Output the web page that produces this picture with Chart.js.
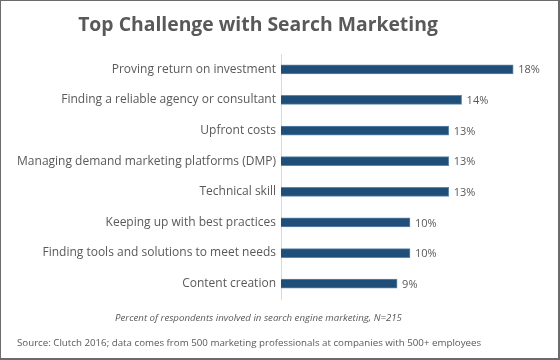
<!DOCTYPE html>
<html><head><meta charset="utf-8">
<script src="https://cdn.jsdelivr.net/npm/chart.js@4/dist/chart.umd.min.js"></script>
<style>
html,body{margin:0;padding:0;background:#fff;}
#wrap{position:relative;width:560px;height:360px;}
#frame{position:absolute;left:0;top:0;width:560px;height:360px;box-sizing:border-box;border:1px solid #6b6b6b;border-right-width:2px;border-bottom-width:2px;pointer-events:none;}
</style></head>
<body>
<div id="wrap"><canvas id="c" width="560" height="360"></canvas><div id="frame"></div></div>
<script>
const titleText = 'Top Challenge with Search Marketing';
const categories = [
  'Proving return on investment',
  'Finding a reliable agency or consultant',
  'Upfront costs',
  'Managing demand marketing platforms (DMP)',
  'Technical skill',
  'Keeping up with best practices',
  'Finding tools and solutions to meet needs',
  'Content creation'
];
const values = [18, 14, 13, 13, 13, 10, 10, 9];
const noteText = 'Percent of respondents involved in search engine marketing, N=215';
const sourceText = 'Source: Clutch 2016; data comes from 500 marketing professionals at companies with 500+ employees';

const FONT = "'Open Sans', sans-serif";
const GRAY = '#595959';

function fitFont(ctx, style, text, target) {
  ctx.font = style + ' 20px ' + FONT;
  const w = ctx.measureText(text).width;
  const size = 20 * target / w;
  ctx.font = style + ' ' + size.toFixed(2) + 'px ' + FONT;
}

const labelPlugin = {
  id: 'labels',
  afterDatasetsDraw(chart) {
    const ctx = chart.ctx;
    const meta = chart.getDatasetMeta(0);
    ctx.save();
    ctx.fillStyle = GRAY;
    ctx.textBaseline = 'middle';
    // title
    fitFont(ctx, 'bold', titleText, 360);
    ctx.textAlign = 'center';
    ctx.fillText(titleText, 258, 25);
    // data labels
    ctx.font = '11px ' + FONT;
    ctx.textAlign = 'left';
    meta.data.forEach((bar, i) => {
      ctx.fillText(values[i] + '%', bar.x + 5, bar.y + 1);
    });
    // footnotes
    fitFont(ctx, 'italic', noteText, 287);
    ctx.textAlign = 'center';
    ctx.fillText(noteText, 258.5, 318);
    fitFont(ctx, '', sourceText, 464);
    ctx.textAlign = 'left';
    ctx.fillText(sourceText, 17, 343);
    ctx.restore();
  }
};

new Chart(document.getElementById('c'), {
  type: 'bar',
  data: {
    labels: categories,
    datasets: [{
      data: values,
      backgroundColor: '#1f4e79',
      borderColor: '#5f87ad',
      borderWidth: 1,
      borderSkipped: 'left',
      barThickness: 9
    }]
  },
  options: {
    indexAxis: 'y',
    responsive: false,
    animation: false,
    layout: { padding: { left: 0, right: 21, top: 54, bottom: 61 } },
    plugins: {
      legend: { display: false },
      tooltip: { enabled: false },
      title: { display: false }
    },
    scales: {
      x: { display: false, min: 0, max: 20 },
      y: {
        afterFit(scale) { scale.width = 281; },
        grid: { display: false, drawTicks: false },
        border: { display: true, color: '#d9d9d9', width: 1 },
        ticks: { color: GRAY, font: { family: FONT, size: 12 }, padding: 5 }
      }
    }
  },
  plugins: [labelPlugin]
});
</script>
</body></html>
